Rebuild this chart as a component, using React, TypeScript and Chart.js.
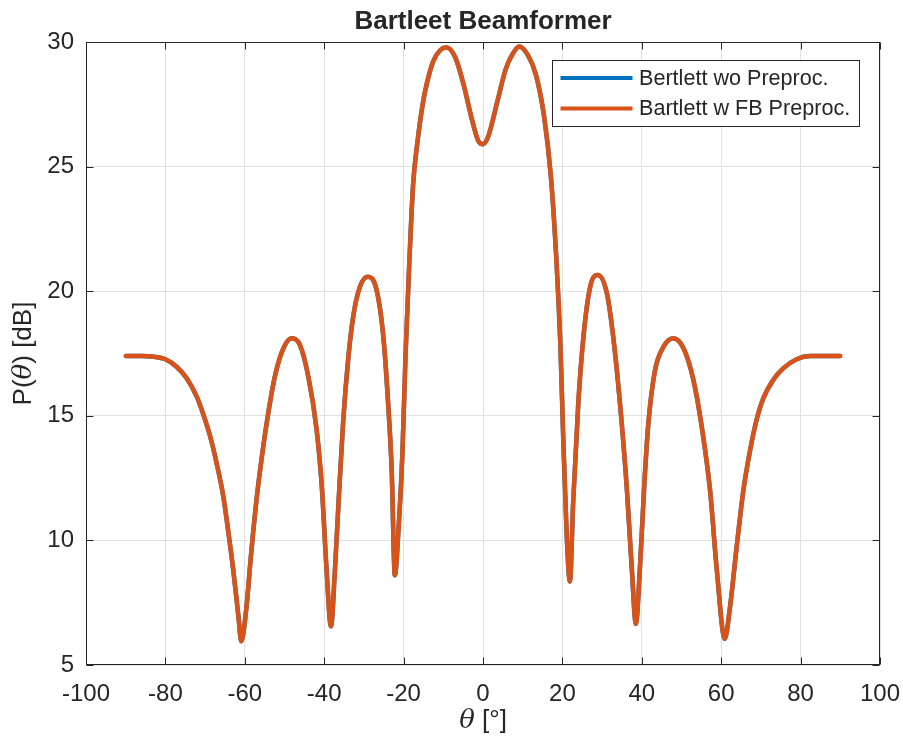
import { useEffect, useRef } from 'react';
import { Chart, registerables } from 'chart.js';

Chart.register(...registerables);

// ---- data ----
const thetaDeg = [
  -90, -86, -83, -80, -77.2, -74.6, -72.1, -70.4, -68.7, -67.1, -65.4, -64.2, -62.9, -61.6, -60.9,
  -59.6, -58.5, -57, -55.5, -54, -52.4, -50.3, -48.2, -46.1, -44.0, -41.9, -40.6, -39.4, -38.3,
  -37.3, -36.4, -35.2, -33.9, -32.7, -31.0, -29.0, -26.8, -25.1, -23.9, -23.0, -22.2, -21.3, -20.3,
  -19.5, -18.6, -17.6, -16.5, -15.2, -14.2, -12.5, -10.8, -9.2, -7.0, -4.9, -2.8, -1.1, 0, 1.4, 3.6,
  5.7, 7.4, 9.1, 11.2, 13.3, 15.4, 17.1, 18.4, 19.5, 20.2, 21.1, 21.9, 22.7, 24.0, 25.3, 27.0, 28.9,
  31.2, 32.8, 34.5, 36.2, 37.5, 38.5, 39.5, 40.6, 41.6, 43.3, 45.4, 47.9, 50.5, 53.0, 55.1, 57.2,
  58.9, 60.9, 62.2, 63.9, 65.6, 67.3, 68.9, 70.6, 73.1, 75.6, 79.0, 82.4, 86, 90,
];

const powerFbDb = [
  17.4, 17.4, 17.37, 17.27, 16.97, 16.5, 15.77, 15.03, 14.16, 13.1, 11.75, 10.4, 8.8, 6.94, 5.95,
  7.3, 9.3, 11.7, 13.6, 15.2, 16.6, 17.7, 18.11, 17.84, 16.57, 14.43, 12.15, 8.81, 6.55,
  8.81, 11.49, 14.83, 17.37, 18.98, 20.18, 20.58, 20.05, 18.17, 15.5, 12.82, 8.6, 10.4, 13.5,
  17.5, 21.0, 24.3, 26.0, 27.5, 28.3, 29.24, 29.67, 29.78, 29.39, 28.3, 26.9, 26.0, 25.9, 26.25, 27.6,
  28.9, 29.5, 29.82, 29.5, 28.7, 27.0, 24.6, 21.5, 17.8, 14.16, 10.15, 8.35, 11.49, 15.5, 18.17, 20.18, 20.65,
  19.92, 18.17, 15.5, 12.15, 8.81, 6.65, 8.81, 12.15, 14.6, 16.8, 17.75, 18.11, 17.71, 16.44, 14.56, 12.0,
  8.8, 6.05, 7.3, 9.75, 12.02, 13.63, 14.83, 15.7, 16.44, 16.9, 17.27, 17.4, 17.4, 17.4,
];

// The curve without preprocessing lies exactly under the FB curve.
const powerWoPreDb = [
  17.4, 17.4, 17.37, 17.27, 16.97, 16.5, 15.77, 15.03, 14.16, 13.1, 11.75, 10.4, 8.8, 6.94, 5.95,
  7.3, 9.3, 11.7, 13.6, 15.2, 16.6, 17.7, 18.11, 17.84, 16.57, 14.43, 12.15, 8.81, 6.55,
  8.81, 11.49, 14.83, 17.37, 18.98, 20.18, 20.58, 20.05, 18.17, 15.5, 12.82, 8.6, 10.4, 13.5,
  17.5, 21.0, 24.3, 26.0, 27.5, 28.3, 29.24, 29.67, 29.78, 29.39, 28.3, 26.9, 26.0, 25.9, 26.25, 27.6,
  28.9, 29.5, 29.82, 29.5, 28.7, 27.0, 24.6, 21.5, 17.8, 14.16, 10.15, 8.35, 11.49, 15.5, 18.17, 20.18, 20.65,
  19.92, 18.17, 15.5, 12.15, 8.81, 6.65, 8.81, 12.15, 14.6, 16.8, 17.75, 18.11, 17.71, 16.44, 14.56, 12.0,
  8.8, 6.05, 7.3, 9.75, 12.02, 13.63, 14.83, 15.7, 16.44, 16.9, 17.27, 17.4, 17.4, 17.4,
];

const xTickValues = [-100, -80, -60, -40, -20, 0, 20, 40, 60, 80, 100];
const yTickValues = [5, 10, 15, 20, 25, 30];

const chartTitle = 'Bartleet Beamformer';
const seriesNames = ['Bertlett wo Preproc.', 'Bartlett w FB Preproc.'];
const seriesColors = ['#0072BD', '#D95319'];

const FONT = '"Liberation Sans", Arial, Helvetica, sans-serif';
const INK = '#262626';

const decorPlugin = {
  id: 'matlabDecor',
  afterDraw(chart: any) {
    const { ctx, chartArea } = chart;
    const { left, right, top, bottom } = chartArea;
    const xs = chart.scales.x;
    const ys = chart.scales.y;
    ctx.save();
    // frame
    ctx.strokeStyle = INK;
    ctx.lineWidth = 1;
    const L = Math.round(left) + 0.5;
    const R = Math.round(right) - 0.5;
    const T = Math.round(top) + 0.5;
    const B = Math.round(bottom) - 0.5;
    ctx.strokeRect(L, T, R - L, B - T);
    // inward ticks
    const tl = 7;
    ctx.beginPath();
    xTickValues.forEach((v) => {
      const px = Math.round(xs.getPixelForValue(v)) + 0.5;
      ctx.moveTo(px, B);
      ctx.lineTo(px, B - tl);
      ctx.moveTo(px, T);
      ctx.lineTo(px, T + tl);
    });
    yTickValues.forEach((v) => {
      const py = Math.round(ys.getPixelForValue(v)) + 0.5;
      ctx.moveTo(L, py);
      ctx.lineTo(L + tl, py);
      ctx.moveTo(R, py);
      ctx.lineTo(R - tl, py);
    });
    ctx.stroke();

    // title
    ctx.fillStyle = INK;
    ctx.textBaseline = 'middle';
    ctx.textAlign = 'center';
    ctx.font = `bold 26px ${FONT}`;
    ctx.fillText(chartTitle, (left + right) / 2, 22);

    const drawMixed = (parts: { t: string; f: string }[], cx: number, cy: number) => {
      let total = 0;
      parts.forEach((p) => {
        ctx.font = p.f;
        total += ctx.measureText(p.t).width;
      });
      let x = cx - total / 2;
      ctx.textAlign = 'left';
      parts.forEach((p) => {
        ctx.font = p.f;
        ctx.fillText(p.t, x, cy);
        x += ctx.measureText(p.t).width;
      });
    };
    const reg = `26px ${FONT}`;
    const ita = `italic 26px "DejaVu Serif", "Liberation Serif", serif`;
    drawMixed(
      [
        { t: 'θ', f: ita },
        { t: ' [°]', f: reg },
      ],
      (left + right) / 2,
      721
    );
    ctx.save();
    ctx.translate(24, (top + bottom) / 2);
    ctx.rotate(-Math.PI / 2);
    drawMixed(
      [
        { t: 'P(', f: reg },
        { t: 'θ', f: ita },
        { t: ') [dB]', f: reg },
      ],
      0,
      0
    );
    ctx.restore();

    // legend
    const bx = Math.round(right) - 327.5;
    const by = Math.round(top) + 18.5;
    const bw = 307;
    const bh = 66;
    ctx.fillStyle = '#ffffff';
    ctx.fillRect(bx, by, bw, bh);
    ctx.strokeStyle = INK;
    ctx.lineWidth = 1;
    ctx.strokeRect(bx, by, bw, bh);
    ctx.font = `21.6px ${FONT}`;
    ctx.textAlign = 'left';
    ctx.textBaseline = 'middle';
    const rows = [by + 17.5, by + 48];
    seriesNames.forEach((name, i) => {
      ctx.strokeStyle = seriesColors[i];
      ctx.lineWidth = 4;
      ctx.beginPath();
      ctx.moveTo(bx + 8, rows[i]);
      ctx.lineTo(bx + 80, rows[i]);
      ctx.stroke();
      ctx.fillStyle = INK;
      ctx.fillText(name, bx + 86.5, rows[i] + 1);
    });
    ctx.restore();
  },
};

export default function App() {
  const canvasRef = useRef<HTMLCanvasElement | null>(null);

  useEffect(() => {
    const canvas = canvasRef.current;
    if (!canvas) return;
    const toPoints = (ys: number[]) => thetaDeg.map((t, i) => ({ x: t, y: ys[i] }));
    const chart = new Chart(canvas, {
      type: 'line',
      data: {
        datasets: [
          {
            label: seriesNames[0],
            data: toPoints(powerWoPreDb),
            borderColor: seriesColors[0],
            backgroundColor: seriesColors[0],
            borderWidth: 4.5,
            pointRadius: 0,
            cubicInterpolationMode: 'monotone',
            order: 1,
          },
          {
            label: seriesNames[1],
            data: toPoints(powerFbDb),
            borderColor: seriesColors[1],
            backgroundColor: seriesColors[1],
            borderWidth: 4.5,
            pointRadius: 0,
            cubicInterpolationMode: 'monotone',
            borderCapStyle: 'round',
            borderJoinStyle: 'round',
            order: 0,
          },
        ],
      },
      options: {
        responsive: false,
        animation: false,
        devicePixelRatio: 1,
        layout: { padding: { top: 42, right: 23, left: 0, bottom: 0 } },
        plugins: {
          legend: { display: false },
          title: { display: false },
          tooltip: { enabled: false },
        },
        scales: {
          x: {
            type: 'linear',
            min: -100,
            max: 100,
            afterBuildTicks: (s: any) => {
              s.ticks = xTickValues.map((v) => ({ value: v }));
            },
            afterFit: (s: any) => {
              s.height = 77;
              s.paddingLeft = 0;
              s.paddingRight = 0;
            },
            ticks: {
              font: { size: 24, family: FONT },
              color: INK,
              padding: 15,
              maxRotation: 0,
              autoSkip: false,
            },
            grid: { color: '#e1e1e1', lineWidth: 1, drawTicks: false },
            border: { display: false },
          },
          y: {
            type: 'linear',
            min: 5,
            max: 30,
            afterBuildTicks: (s: any) => {
              s.ticks = yTickValues.map((v) => ({ value: v }));
            },
            afterFit: (s: any) => {
              s.width = 86;
              s.paddingTop = 0;
              s.paddingBottom = 0;
            },
            ticks: {
              font: { size: 24, family: FONT },
              color: INK,
              padding: 12,
              autoSkip: false,
            },
            grid: { color: '#e1e1e1', lineWidth: 1, drawTicks: false },
            border: { display: false },
          },
        },
      },
      plugins: [decorPlugin],
    } as any);
    return () => chart.destroy();
  }, []);

  return (
    <div style={{ position: 'fixed', left: 0, top: 0, width: 903, height: 742, background: '#ffffff' }}>
      <canvas ref={canvasRef} width={903} height={742} style={{ width: 903, height: 742, display: 'block' }} />
    </div>
  );
}
